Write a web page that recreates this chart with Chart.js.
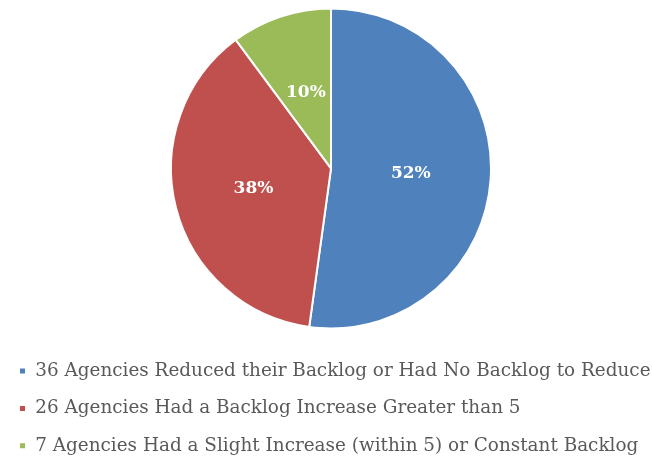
<!DOCTYPE html>
<html><head><meta charset="utf-8">
<script src="https://cdn.jsdelivr.net/npm/chart.js@4"></script>
<style>html,body{margin:0;padding:0;background:#fff}#w{width:652px;height:469px}</style>
</head><body><div id="w"><canvas id="c"></canvas></div>
<script>
const categories = [
  "36 Agencies Reduced their Backlog or Had No Backlog to Reduce",
  "26 Agencies Had a Backlog Increase Greater than 5",
  "7 Agencies Had a Slight Increase (within 5) or Constant Backlog"
];
const agencyCounts = [36, 26, 7];
const percentLabels = ["52%", "38%", "10%"];
const sliceColors = ["#4F81BD", "#C0504D", "#9BBB59"];

const labelPlugin = {
  id: 'sliceLabels',
  afterDatasetsDraw(chart) {
    const ctx = chart.ctx;
    const meta = chart.getDatasetMeta(0);
    ctx.save();
    ctx.font = 'bold 17px "DejaVu Serif", serif';
    ctx.fillStyle = '#fff';
    ctx.textAlign = 'center';
    ctx.textBaseline = 'middle';
    meta.data.forEach((arc, i) => {
      const p = arc.tooltipPosition();
      ctx.fillText(percentLabels[i], p.x, p.y);
    });
    ctx.restore();
  }
};

// place the pie area: shift it up and right relative to the legend
const areaPlugin = {
  id: 'pieArea',
  afterLayout(chart) {
    const a = chart.chartArea;
    a.top = -6;
    a.left = 10;
    a.width = a.right - a.left;
    a.height = a.bottom - a.top;
  }
};

new Chart(document.getElementById('c'), {
  type: 'pie',
  data: {
    labels: categories,
    datasets: [{
      data: agencyCounts,
      backgroundColor: sliceColors,
      borderColor: '#fff',
      borderWidth: 2,
      radius: 160
    }]
  },
  options: {
    responsive: true,
    maintainAspectRatio: false,
    animation: false,
    layout: { padding: { top: 0, left: 0, right: 0, bottom: 4 } },
    plugins: {
      tooltip: { enabled: false },
      legend: {
        position: 'bottom',
        align: 'start',
        labels: {
          boxWidth: 7,
          boxHeight: 7,
          padding: 19,
          color: '#595959',
          font: { family: '"DejaVu Serif", serif', size: 18.4 }
        }
      }
    }
  },
  plugins: [areaPlugin, labelPlugin]
});
</script></body></html>
